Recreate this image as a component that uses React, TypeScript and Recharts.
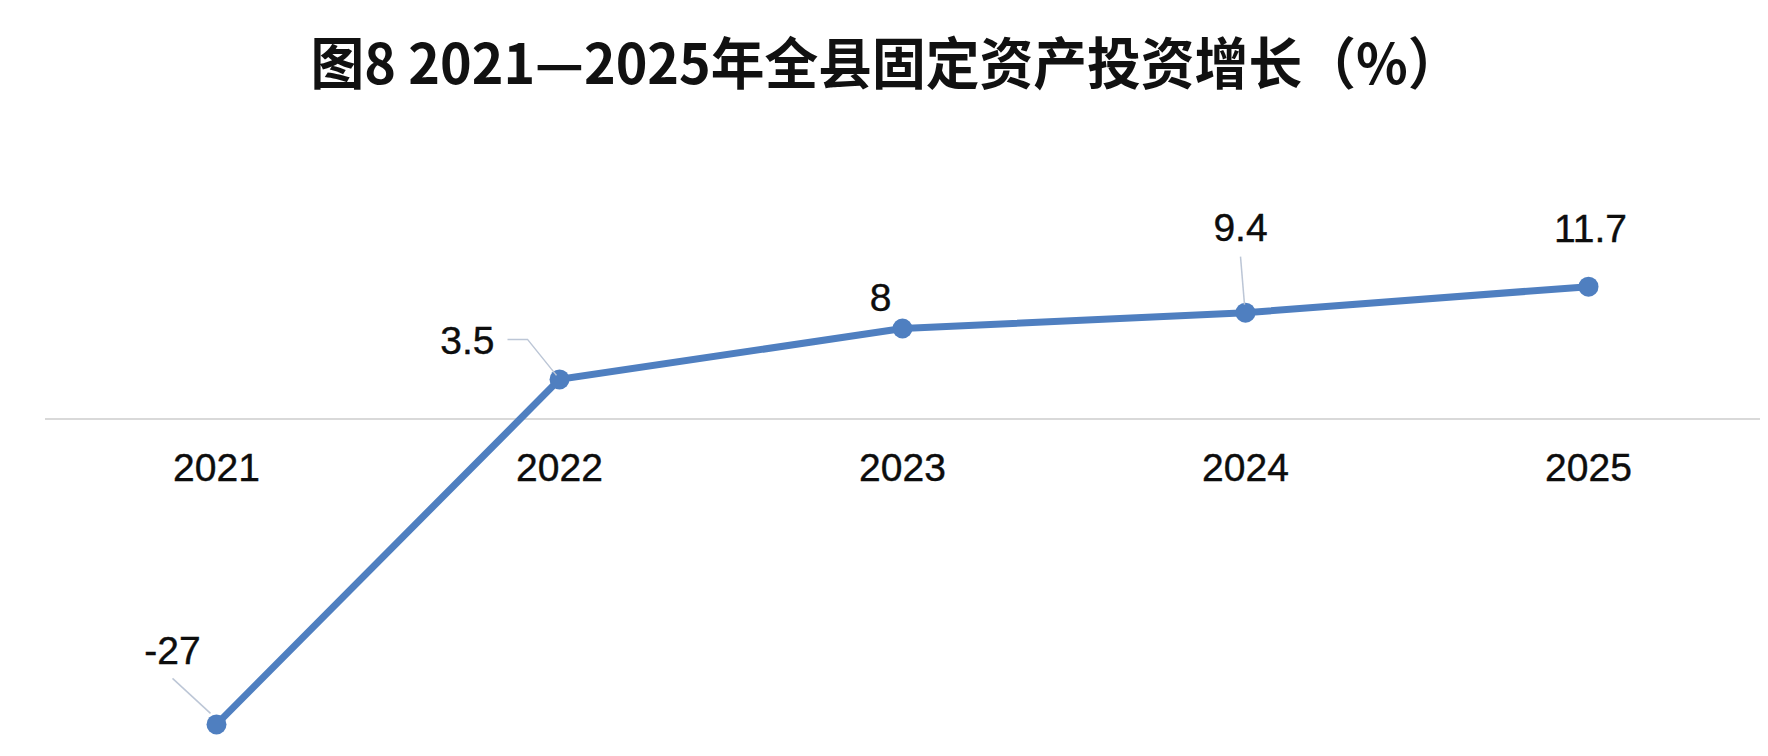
import React from "react"
import {
  LineChart,
  Line,
  XAxis,
  YAxis,
  ReferenceLine,
  LabelList,
} from "recharts"

const years = ["2021", "2022", "2023", "2024", "2025"]
const growth = [-27, 3.5, 8, 9.4, 11.7]
const valueLabels = ["-27", "3.5", "8", "9.4", "11.7"]

const TITLE = "图8 2021—2025年全县固定资产投资增长（%）"

const WIDTH = 1768
const HEIGHT = 756
const Y_DOMAIN: [number, number] = [-29, 16]
const MARGIN = { top: 238, right: 8, bottom: 0, left: 45 }
const X_AXIS_HEIGHT = 9
const X_PADDING = 171.5

const LINE_COLOR = "#4f7fc0"
const LEADER_COLOR = "#bcc6d6"

// where the zero line sits in the plot, used to hang the year labels on it
const plotHeight = HEIGHT - MARGIN.top - MARGIN.bottom - X_AXIS_HEIGHT
const zeroY = MARGIN.top + (plotHeight * Y_DOMAIN[1]) / (Y_DOMAIN[1] - Y_DOMAIN[0])

// label placement relative to each point (dx, dy to baseline, anchor, leader path)
const labelOffsets = [
  { dx: -44, dy: -60, anchor: "middle", leader: [[-44, -46], [-6, -11]] },
  { dx: -65, dy: -25, anchor: "end", leader: [[-52, -40], [-32, -40], [-3, -4]] },
  { dx: -22, dy: -17, anchor: "middle", leader: null },
  { dx: -5, dy: -72, anchor: "middle", leader: [[-5, -56], [-1, -8]] },
  { dx: 2, dy: -45, anchor: "middle", leader: null },
]

const data = years.map((year, i) => ({ year, value: growth[i], label: valueLabels[i] }))

const renderValueLabel = (props: any) => {
  const { x, y, index } = props
  const off = labelOffsets[index]
  if (!off) return null
  return (
    <g key={`lbl-${index}`}>
      {off.leader && (
        <polyline
          points={off.leader.map(([px, py]) => `${x + px},${y + py}`).join(" ")}
          fill="none"
          stroke={LEADER_COLOR}
          strokeWidth={1.5}
        />
      )}
      <text
        x={x + off.dx}
        y={y + off.dy}
        textAnchor={off.anchor}
        fontFamily="'Liberation Sans', Arial, sans-serif"
        fontSize={39}
        fill="#0d0d0d"
        stroke="#0d0d0d"
        strokeWidth={0.4}
      >
        {valueLabels[index]}
      </text>
    </g>
  )
}

const renderYearTick = (props: any) => {
  const { x, payload } = props
  return (
    <text
      x={x}
      y={zeroY + 62}
      textAnchor="middle"
      fontFamily="'Liberation Sans', Arial, sans-serif"
      fontSize={39}
      fill="#0d0d0d"
      stroke="#0d0d0d"
      strokeWidth={0.4}
    >
      {payload.value}
    </text>
  )
}

export default function App() {
  return (
    <div
      style={{
        position: "absolute",
        left: 0,
        top: 0,
        width: WIDTH,
        height: HEIGHT,
        overflow: "hidden",
        background: "#fff",
      }}
    >
      <div
        style={{
          position: "absolute",
          left: 5,
          top: 32,
          width: 1762,
          textAlign: "center",
          fontFamily: "'Noto Sans CJK SC', sans-serif",
          fontWeight: 700,
          fontSize: 56,
          lineHeight: "56px",
          color: "#111",
          whiteSpace: "nowrap",
          transform: "scaleX(0.96)",
        }}
      >
        {TITLE}
      </div>
      <LineChart width={WIDTH} height={HEIGHT} data={data} margin={MARGIN}>
        <XAxis
          dataKey="year"
          axisLine={false}
          tickLine={false}
          height={X_AXIS_HEIGHT}
          interval={0}
          padding={{ left: X_PADDING, right: X_PADDING }}
          tick={renderYearTick}
        />
        <YAxis hide domain={Y_DOMAIN} />
        <ReferenceLine y={0} stroke="#d9d9d9" strokeWidth={2} />
        <Line
          type="linear"
          dataKey="value"
          stroke={LINE_COLOR}
          strokeWidth={7}
          dot={{ r: 10, fill: LINE_COLOR, stroke: LINE_COLOR, strokeWidth: 0 }}
          activeDot={false}
          isAnimationActive={false}
        >
          <LabelList dataKey="label" content={renderValueLabel} />
        </Line>
      </LineChart>
    </div>
  )
}
